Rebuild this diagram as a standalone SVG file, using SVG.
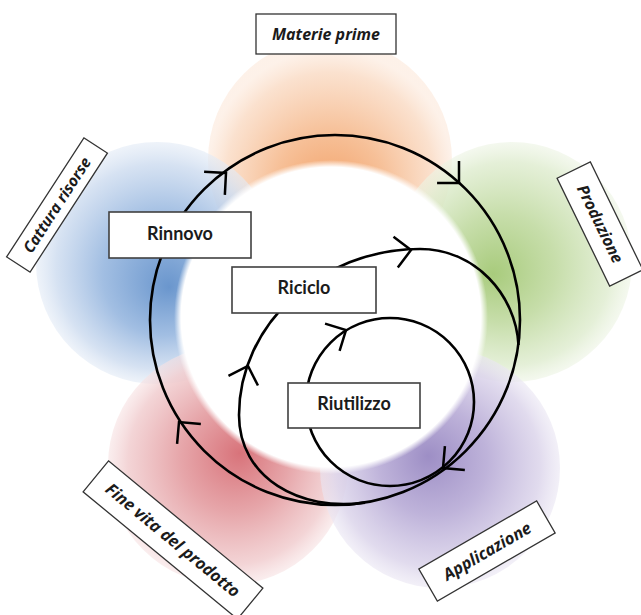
<svg xmlns="http://www.w3.org/2000/svg" width="641" height="615" viewBox="0 0 641 615">
<defs>
  <radialGradient id="gO" cx="0.5" cy="0.55" r="0.5" fx="0.5" fy="0.66">
    <stop offset="0" stop-color="#F29E63"/>
    <stop offset="0.45" stop-color="#F6BD93" stop-opacity="0.95"/>
    <stop offset="0.85" stop-color="#FADCC6" stop-opacity="0.85"/>
    <stop offset="1" stop-color="#FCE8DA" stop-opacity="0.6"/>
  </radialGradient>
  <radialGradient id="gG" cx="0.5" cy="0.5" r="0.5" fx="0.42" fy="0.55">
    <stop offset="0" stop-color="#A8CB7C"/>
    <stop offset="0.45" stop-color="#C4DCA6" stop-opacity="0.95"/>
    <stop offset="0.85" stop-color="#E0EDD1" stop-opacity="0.85"/>
    <stop offset="1" stop-color="#EDF4E4" stop-opacity="0.6"/>
  </radialGradient>
  <radialGradient id="gB" cx="0.5" cy="0.5" r="0.5" fx="0.55" fy="0.6">
    <stop offset="0" stop-color="#6A96CD"/>
    <stop offset="0.5" stop-color="#9DBBE1" stop-opacity="0.95"/>
    <stop offset="0.85" stop-color="#CFDDF0" stop-opacity="0.85"/>
    <stop offset="1" stop-color="#E3EBF6" stop-opacity="0.6"/>
  </radialGradient>
  <radialGradient id="gR" cx="0.5" cy="0.5" r="0.5" fx="0.55" fy="0.45">
    <stop offset="0" stop-color="#D8737A"/>
    <stop offset="0.45" stop-color="#E5A1A5" stop-opacity="0.95"/>
    <stop offset="0.85" stop-color="#F1CDCF" stop-opacity="0.85"/>
    <stop offset="1" stop-color="#F7E2E3" stop-opacity="0.6"/>
  </radialGradient>
  <radialGradient id="gP" cx="0.5" cy="0.5" r="0.5" fx="0.45" fy="0.45">
    <stop offset="0" stop-color="#9D8EC5"/>
    <stop offset="0.45" stop-color="#BBAFD8" stop-opacity="0.95"/>
    <stop offset="0.85" stop-color="#DCD5EB" stop-opacity="0.85"/>
    <stop offset="1" stop-color="#EAE6F3" stop-opacity="0.6"/>
  </radialGradient>
  <radialGradient id="gW" cx="0.5" cy="0.5" r="0.5">
    <stop offset="0.955" stop-color="#FFFFFF"/>
    <stop offset="1" stop-color="#FFFFFF" stop-opacity="0"/>
  </radialGradient>
  <path id="ah" d="M-15.5,-15.5 L0,0 L-15.5,15.5" fill="none" stroke="#000" stroke-width="2.5"/>
</defs>
<style>
  .lb rect{fill:#fff;stroke:#333;stroke-width:1.3}
  .lb text{font-family:'Open Sans',Lato,'Liberation Sans',sans-serif;font-weight:700;font-style:italic;fill:#1b1b1b;text-anchor:middle}
  .nd rect{fill:#fff;stroke:#404040;stroke-width:1.6}
  .nd text{font-family:Lato,'Open Sans','Liberation Sans',sans-serif;font-weight:700;font-size:18px;fill:#1b1b1b;text-anchor:middle}
  .cn{fill:none;stroke:#000;stroke-width:2.6}
</style>
<rect width="641" height="615" fill="#fff"/>
<g id="petals">
  <circle cx="330" cy="160" r="122" fill="url(#gO)"/>
  <circle cx="512" cy="262" r="120" fill="url(#gG)"/>
  <circle cx="157" cy="263" r="121" fill="url(#gB)"/>
  <circle cx="228" cy="465" r="120" fill="url(#gR)"/>
  <circle cx="440" cy="468" r="120" fill="url(#gP)"/>
  <circle cx="331" cy="317" r="157" fill="url(#gW)"/>
</g>
<g id="connectors">
  <circle class="cn" cx="335" cy="320" r="185"/>
  <path class="cn" d="M365,502.6 C300,512 239,478 239,415 C239,325 320,249 420,249 C475,249 516,295 518.5,345"/>
  <circle class="cn" cx="390" cy="402" r="84"/>
  <use href="#ah" transform="translate(226,173) rotate(-42)"/>
  <use href="#ah" transform="translate(459,183) rotate(45)"/>
  <use href="#ah" transform="translate(179,422) rotate(-130)"/>
  <use href="#ah" transform="translate(443,468) rotate(140)"/>
  <use href="#ah" transform="translate(411,250) rotate(-8)"/>
  <use href="#ah" transform="translate(248,366) rotate(-72)"/>
  <use href="#ah" transform="translate(346,330) rotate(-28)"/>
</g>
<g id="node-materie" class="lb">
  <rect x="256" y="14" width="140" height="40"/>
  <text x="326" y="39.5" font-size="16">Materie prime</text>
</g>
<g id="node-produzione" class="lb" transform="translate(600,224) rotate(64)">
  <rect x="-60" y="-18.5" width="120" height="37"/>
  <text x="0" y="5.5" font-size="16">Produzione</text>
</g>
<g id="node-applicazione" class="lb" transform="translate(487,551) rotate(-30)">
  <rect x="-68" y="-18.5" width="136" height="37"/>
  <text x="0" y="6" font-size="16.5">Applicazione</text>
</g>
<g id="node-finevita" class="lb" transform="translate(173,540) rotate(39.5)">
  <rect x="-100" y="-20" width="200" height="40"/>
  <text x="0" y="6" font-size="16.5">Fine vita del prodotto</text>
</g>
<g id="node-cattura" class="lb" transform="translate(57,205) rotate(-57)">
  <rect x="-71" y="-14" width="142" height="28"/>
  <text x="0" y="5.5" font-size="15.5">Cattura risorse</text>
</g>
<g id="node-rinnovo" class="nd">
  <rect x="109" y="212" width="142" height="46"/>
  <text x="180" y="239.5">Rinnovo</text>
</g>
<g id="node-riciclo" class="nd">
  <rect x="232" y="267" width="144" height="46"/>
  <text x="304" y="294">Riciclo</text>
</g>
<g id="node-riutilizzo" class="nd">
  <rect x="288" y="383" width="132" height="45"/>
  <text x="354" y="409.5">Riutilizzo</text>
</g>
</svg>
